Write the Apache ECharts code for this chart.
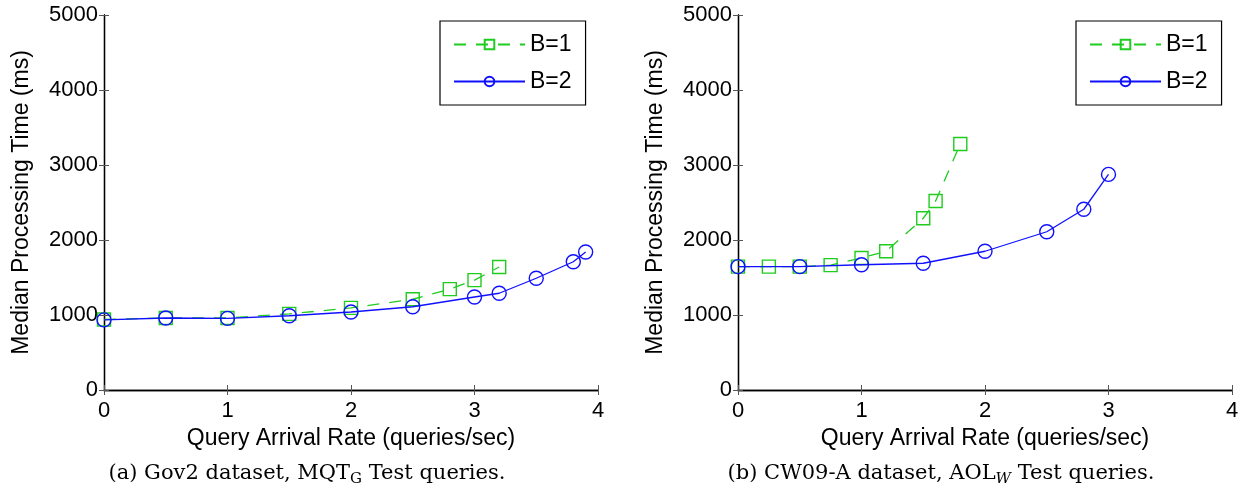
<!DOCTYPE html>
<html>
<head>
<meta charset="utf-8">
<script src="https://cdn.jsdelivr.net/npm/echarts@6/dist/echarts.min.js"></script>
<style>
  html, body { margin: 0; padding: 0; background: #fff; }
  #chart { width: 1245px; height: 495px; }
</style>
</head>
<body>
<div id="chart"></div>
<script>
// ---- Data ----
const seriesNames = ['B=1', 'B=2'];
const yTicks = [0, 1000, 2000, 3000, 4000, 5000];
const xTicks = [0, 1, 2, 3, 4];

// (a) Gov2 dataset
const govB1X = [0, 0.5, 1, 1.5, 2, 2.5, 2.8, 3, 3.2];
const govB1Y = [940, 960, 960, 1015, 1095, 1210, 1345, 1465, 1640];
const govB2X = [0, 0.5, 1, 1.5, 2, 2.5, 3, 3.2, 3.5, 3.8, 3.9];
const govB2Y = [935, 960, 955, 990, 1040, 1110, 1240, 1290, 1490, 1710, 1840];

// (b) CW09-A dataset
const cwB1X = [0, 0.25, 0.5, 0.75, 1, 1.2, 1.5, 1.6, 1.8];
const cwB1Y = [1645, 1645, 1645, 1665, 1760, 1850, 2290, 2520, 3280];
const cwB2X = [0, 0.5, 1, 1.5, 2, 2.5, 2.8, 3];
const cwB2Y = [1645, 1645, 1670, 1690, 1850, 2110, 2410, 2875];

const xAxisTitle = 'Query Arrival Rate (queries/sec)';
const yAxisTitle = 'Median Processing Time (ms)';

// ---- Styling ----
const GREEN = '#1fcc1f';
const BLUE = '#1010ff';
const SANS = '"Liberation Sans", Arial, sans-serif';
const SERIF = '"DejaVu Serif", serif';

const pairs = (xs, ys) => xs.map((x, i) => [x, ys[i]]);

const grids = [
  { left: 104, top: 15, width: 494, height: 375 },
  { left: 738, top: 15, width: 494, height: 375 }
];

const tickStyle = { show: true, inside: true, length: 5, lineStyle: { color: '#555' } };
const lineStyleAxis = { show: true, lineStyle: { color: '#000', width: 1.3 } };

function mainX(gi) {
  return {
    type: 'value', gridIndex: gi, min: xTicks[0], max: xTicks[xTicks.length - 1], interval: 1,
    position: 'bottom',
    name: xAxisTitle, nameLocation: 'middle', nameGap: 36,
    nameTextStyle: { fontFamily: SANS, fontSize: 23, color: '#000' },
    axisLine: lineStyleAxis, axisTick: tickStyle,
    axisLabel: { fontFamily: SANS, fontSize: 22, color: '#000', margin: 10 },
    splitLine: { show: false }
  };
}
function mirrorX(gi) {
  return {
    type: 'value', gridIndex: gi, min: xTicks[0], max: xTicks[xTicks.length - 1], interval: 1,
    position: 'top', axisLine: lineStyleAxis, axisTick: tickStyle,
    axisLabel: { show: false }, splitLine: { show: false }
  };
}
function mainY(gi) {
  return {
    type: 'value', gridIndex: gi, min: yTicks[0], max: yTicks[yTicks.length - 1], interval: 1000,
    position: 'left',
    name: yAxisTitle, nameLocation: 'middle', nameGap: 71,
    nameTextStyle: { fontFamily: SANS, fontSize: 23, color: '#000' },
    axisLine: lineStyleAxis, axisTick: tickStyle,
    axisLabel: { fontFamily: SANS, fontSize: 22, color: '#000', margin: 6, formatter: v => String(v) },
    splitLine: { show: false }
  };
}
function mirrorY(gi) {
  return {
    type: 'value', gridIndex: gi, min: yTicks[0], max: yTicks[yTicks.length - 1], interval: 1000,
    position: 'right', axisLine: lineStyleAxis, axisTick: tickStyle,
    axisLabel: { show: false }, splitLine: { show: false }
  };
}

function b1Series(axisIdx, data) {
  return {
    name: seriesNames[0], type: 'line', xAxisIndex: axisIdx, yAxisIndex: axisIdx,
    data: data, symbol: 'rect', symbolSize: 13, showAllSymbol: true,
    lineStyle: { color: GREEN, width: 1.3, type: [12, 10] },
    itemStyle: { color: 'rgba(255,255,255,0)', borderColor: GREEN, borderWidth: 1.4 },
    emphasis: { disabled: true }, animation: false, z: 2
  };
}
function b2Series(axisIdx, data) {
  return {
    name: seriesNames[1], type: 'line', xAxisIndex: axisIdx, yAxisIndex: axisIdx,
    data: data, symbol: 'circle', symbolSize: 14, showAllSymbol: true,
    lineStyle: { color: BLUE, width: 1.3 },
    itemStyle: { color: 'rgba(255,255,255,0)', borderColor: BLUE, borderWidth: 1.4 },
    emphasis: { disabled: true }, animation: false, z: 3
  };
}

function legendAt(left) {
  return {
    orient: 'vertical', left: left, top: 21,
    data: seriesNames,
    itemWidth: 71, itemHeight: 12, itemGap: 14, itemTextGap: 9,
    padding: [12, 14, 12, 13],
    borderColor: '#000', borderWidth: 1.2, backgroundColor: '#fff',
    textStyle: { fontFamily: SANS, fontSize: 23, color: '#000' },
    selectedMode: false
  };
}

const captionRich = {
  sub: { fontFamily: SERIF, fontSize: 15, color: '#000', padding: [11, 0, 0, 0] },
  subi: { fontFamily: SERIF, fontSize: 15, fontStyle: 'italic', color: '#000', padding: [11, 0, 0, 0] }
};

const option = {
  backgroundColor: '#fff',
  animation: false,
  grid: grids,
  xAxis: [mainX(0), mainX(1), mirrorX(0), mirrorX(1)],
  yAxis: [mainY(0), mainY(1), mirrorY(0), mirrorY(1)],
  legend: [legendAt(440), legendAt(1076)],
  title: [
    {
      text: '(a) Gov2 dataset, MQT{sub|G} Test queries.', left: 307, top: 461, textAlign: 'center', padding: 0,
      textStyle: { fontFamily: SERIF, fontSize: 21, fontWeight: 'normal', color: '#000', rich: captionRich }
    },
    {
      text: '(b) CW09-A dataset, AOL{subi|W} Test queries.', left: 941, top: 461, textAlign: 'center', padding: 0,
      textStyle: { fontFamily: SERIF, fontSize: 21, fontWeight: 'normal', color: '#000', rich: captionRich }
    }
  ],
  series: [
    b1Series(0, pairs(govB1X, govB1Y)),
    b2Series(0, pairs(govB2X, govB2Y)),
    b1Series(1, pairs(cwB1X, cwB1Y)),
    b2Series(1, pairs(cwB2X, cwB2Y))
  ]
};

const chart = echarts.init(document.getElementById('chart'), null, { renderer: 'canvas' });
chart.setOption(option);
</script>
</body>
</html>
